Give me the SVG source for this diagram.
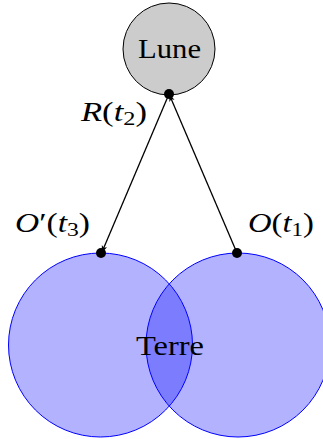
<svg xmlns="http://www.w3.org/2000/svg" width="323" height="439" viewBox="0 0 323 439">
<style>
.t{font-family:"Liberation Serif","DejaVu Serif",serif;font-size:27px;fill:#000}
.m{font-style:italic}
.u{font-style:normal}
.s{font-size:19px}
.earth{fill:#0000ff;fill-opacity:0.3;stroke:#0000ff;stroke-width:1}
.ln{stroke:#000;stroke-width:1.3;fill:none}
</style>
<defs>
<marker id="ah" viewBox="0 0 10 10" refX="9" refY="5" markerWidth="7" markerHeight="7" orient="auto" markerUnits="userSpaceOnUse">
<path d="M0,1 L10,5 L0,9 L2.5,5 Z" fill="#000"/>
</marker>
</defs>
<g id="terre">
<circle class="earth" cx="100.5" cy="345" r="92"/>
<circle class="earth" cx="238" cy="345" r="92"/>
<text class="t" x="136" y="355" textLength="68" lengthAdjust="spacingAndGlyphs">Terre</text>
</g>
<g id="lune">
<circle cx="169" cy="49" r="46" fill="#cccccc" stroke="#000" stroke-width="1"/>
<text class="t" x="138" y="58" textLength="63" lengthAdjust="spacingAndGlyphs">Lune</text>
</g>
<g id="connectors">
<line class="ln" x1="237" y1="253" x2="169.5" y2="95" marker-end="url(#ah)"/>
<line class="ln" x1="169" y1="94" x2="102" y2="252" marker-end="url(#ah)"/>
</g>
<g id="points">
<circle cx="169" cy="94" r="5" fill="#000"/>
<circle cx="101" cy="253" r="5" fill="#000"/>
<circle cx="237" cy="253" r="5" fill="#000"/>
</g>
<g id="labels">
<text class="t" x="81" y="121" textLength="66" lengthAdjust="spacingAndGlyphs"><tspan class="m">R</tspan><tspan class="u">(</tspan><tspan class="m">t</tspan><tspan class="s u" dy="4">2</tspan><tspan class="u" dy="-4">)</tspan></text>
<text class="t" x="15" y="232" textLength="75" lengthAdjust="spacingAndGlyphs"><tspan class="m">O</tspan><tspan class="u">′(</tspan><tspan class="m">t</tspan><tspan class="s u" dy="4">3</tspan><tspan class="u" dy="-4">)</tspan></text>
<text class="t" x="248" y="232" textLength="66" lengthAdjust="spacingAndGlyphs"><tspan class="m">O</tspan><tspan class="u">(</tspan><tspan class="m">t</tspan><tspan class="s u" dy="4">1</tspan><tspan class="u" dy="-4">)</tspan></text>
</g>
</svg>
